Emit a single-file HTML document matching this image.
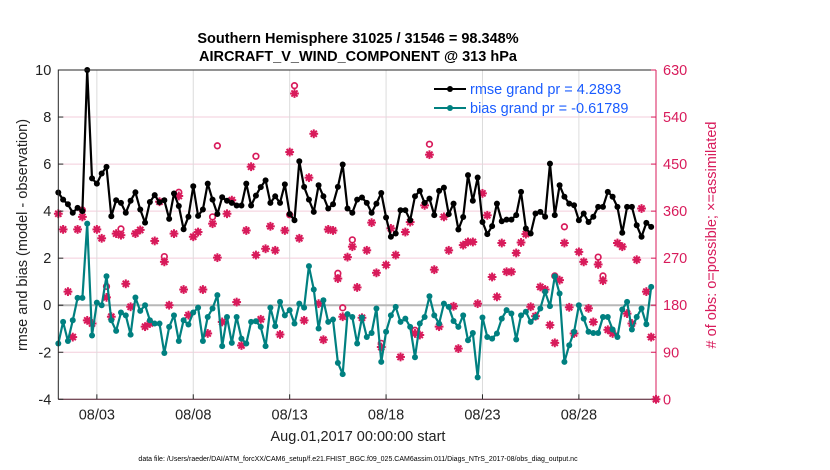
<!DOCTYPE html>
<html><head><meta charset="utf-8"><style>
body{margin:0;background:#fff;}
svg{display:block;font-family:"Liberation Sans",Arial,sans-serif;}
</style></head><body>
<svg id="chart" width="830" height="470" viewBox="0 0 830 470">
<g id="grid"></g>
<g id="series"></g>
<g id="axes"></g>
<text x="358" y="43" text-anchor="middle" font-size="14.5" font-weight="bold" fill="#000">Southern Hemisphere 31025 / 31546 = 98.348%</text>
<text x="358" y="61" text-anchor="middle" font-size="14.5" font-weight="bold" fill="#000">AIRCRAFT_V_WIND_COMPONENT @ 313 hPa</text>
<text transform="translate(27,235) rotate(-90)" text-anchor="middle" font-size="14.5" fill="#222">rmse and bias (model - observation)</text>
<text transform="translate(716,235) rotate(-90)" text-anchor="middle" font-size="14.5" fill="#d81b5b"># of obs: o=possible; ×=assimilated</text>
<text x="358" y="441" text-anchor="middle" font-size="14.5" fill="#222">Aug.01,2017 00:00:00 start</text>
<text x="358" y="461" text-anchor="middle" font-size="7" fill="#000">data file: /Users/raeder/DAI/ATM_forcXX/CAM6_setup/f.e21.FHIST_BGC.f09_025.CAM6assim.011/Diags_NTrS_2017-08/obs_diag_output.nc</text>
<g>
<line x1="434" y1="89" x2="466" y2="89" stroke="#000" stroke-width="2"/>
<circle cx="450" cy="89" r="3" fill="#000"/>
<text x="470" y="94" font-size="14.5" fill="#1a5cff">rmse grand pr = 4.2893</text>
<line x1="434" y1="108" x2="466" y2="108" stroke="#008080" stroke-width="2"/>
<circle cx="450" cy="108" r="3" fill="#008080"/>
<text x="470" y="113" font-size="14.5" fill="#1a5cff">bias grand pr = -0.61789</text>
</g>
</svg>
<script>
const rmse=[4.79,4.49,4.29,3.93,4.14,4.0,10.0,5.39,5.17,5.6,5.88,3.78,4.46,4.35,3.93,4.44,4.8,4.07,3.51,4.39,4.68,4.38,4.46,3.67,4.75,4.22,3.23,3.76,5.06,3.8,4.07,5.17,
4.49,3.88,4.59,4.44,4.35,4.24,4.24,5.17,4.24,4.66,5.02,5.31,4.35,4.63,4.35,5.14,3.88,3.61,6.12,5.03,4.49,3.97,5.1,4.63,4.11,4.29,5.03,5.98,4.11,3.93,4.49,
4.58,4.35,3.93,4.32,4.77,3.73,2.91,3.05,4.04,4.04,3.61,4.63,4.86,4.35,4.53,3.83,4.86,5.0,3.87,4.32,3.22,3.75,5.53,4.44,5.43,3.54,3.02,3.36,4.32,3.57,3.64,
3.64,3.83,4.82,3.26,3.05,3.9,3.97,3.76,6.02,3.83,5.1,4.61,4.32,4.25,3.61,3.9,3.54,3.76,4.18,4.18,4.82,4.61,4.18,3.08,4.18,4.18,3.4,2.91,3.5,3.33];
const bias=[-1.63,-0.71,-1.52,-0.64,0.31,0.31,3.47,-1.29,0.11,0,1.23,-0.64,-1.09,-0.31,-0.43,-1.25,0.33,-0.24,0,-0.64,-0.78,-0.78,-2.03,-0.92,-0.43,-1.52,-0.64,-0.82,-0.31,-0.1,-1.52,-0.5,
-0.14,0.43,-1.74,-0.5,-1.6,-0.5,-1.42,-1.63,-0.71,-0.68,-0.92,-1.74,-0.1,-0.89,0.14,-0.43,-0.21,-0.78,0.07,-0.1,1.66,0.67,-0.99,0.21,-0.71,-0.61,-2.45,-2.93,-0.38,-0.5,-1.63,
-0.52,-1.35,-1.18,-0.14,-2.41,-1.13,-0.43,-0.07,-0.71,-0.57,-0.92,-2.21,-0.78,-0.5,0.38,-0.43,-0.78,0.07,-0.07,-0.67,-0.92,-0.43,-1.49,-1.18,-3.07,-0.52,-1.35,-1.42,-1.2,-0.57,-0.21,
-0.35,-1.46,-0.43,-0.28,-0.71,-0.5,-0.14,0.57,-0.04,1.23,0.5,-2.41,-1.7,-1.13,0,-0.57,-1.13,-1.18,-1.18,-0.5,-0.5,-1.03,-1.35,-0.18,0.14,-1.03,-0.5,-0.14,-0.81,0.78];
const nAssim=[355,325,206,119,325,349,151,145,325,308,195,158,317,314,221,177,317,324,139,145,303,378,263,180,317,389,210,161,311,320,210,126,
336,271,148,355,381,186,103,323,445,276,153,288,331,285,124,323,473,585,308,151,424,508,183,114,325,323,231,158,272,292,214,
156,285,338,242,100,257,327,276,81,320,339,126,123,371,468,248,139,349,285,178,97,295,301,301,183,394,352,234,196,299,244,
244,280,300,316,177,159,215,210,142,108,228,299,176,126,282,263,174,148,258,227,133,126,299,292,164,145,267,365,206,119,0];
const possIdx=[5,10,13,22,25,32,33,41,48,49,58,59,61,67,74,77,103,105,112,113];
const possVal=[362,216,326,273,396,349,485,465,353,600,241,175,305,107,132,488,236,330,272,236];
const yTicks=[-4,-2,0,2,4,6,8,10];
const rTicks=[0,90,180,270,360,450,540,630];
const xTickDays=[2,7,12,17,22,27];
const xTickLabels=["08/03","08/08","08/13","08/18","08/23","08/28"];

const NS="http://www.w3.org/2000/svg";
const L=58.3,R=656,T=70,B=399.3;
const X=d=>L+(d/31)*(R-L);
const Y=v=>B-(v+4)/14*(B-T);
const YR=c=>B-c/630*(B-T);
const dayOf=k=>k*0.25;
function mk(tag,attrs,parent){const e=document.createElementNS(NS,tag);for(const k in attrs)e.setAttribute(k,attrs[k]);parent.appendChild(e);return e;}
const grid=document.getElementById('grid'),ser=document.getElementById('series'),ax=document.getElementById('axes');
rTicks.forEach(c=>{const l=mk('line',{x1:L,x2:R,y1:YR(c),y2:YR(c),stroke:'#f3cddb','stroke-width':1},grid);

});
xTickDays.forEach(d=>{const l=mk('line',{x1:X(d),x2:X(d),y1:T,y2:B,stroke:'#dcdcdc','stroke-width':1},grid);

});
const z=mk('line',{x1:L,x2:R,y1:Y(0),y2:Y(0),stroke:'#b8b8b8','stroke-width':2},grid);


function ast(cx,cy,g){const s=4.4;[[0,s],[s,0],[s*.7,s*.7],[s*.7,-s*.7]].forEach(([dx,dy])=>mk('line',{x1:cx-dx,y1:cy-dy,x2:cx+dx,y2:cy+dy,stroke:'#d81b5b','stroke-width':2},g));mk('circle',{cx:cx,cy:cy,r:2.8,fill:'#d81b5b'},g);}
possIdx.forEach((k,i)=>{const c=mk('circle',{cx:X(dayOf(k)),cy:YR(possVal[i]),r:2.8,fill:'none',stroke:'#d81b5b','stroke-width':1.7},ser);

});
nAssim.forEach((c,k)=>{const g=mk('g',{},ser);


ast(X(dayOf(k)),YR(c),g);});
function line(vals,color,name){const p=mk('polyline',{points:vals.map((v,k)=>X(dayOf(k)).toFixed(1)+','+Y(v).toFixed(1)).join(' '),fill:'none',stroke:color,'stroke-width':2.2,'stroke-linejoin':'round'},ser);


vals.forEach((v,k)=>{const c=mk('circle',{cx:X(dayOf(k)),cy:Y(v),r:3,fill:color},ser);

});}
line(rmse,'#000','rmse');
line(bias,'#008080','bias');
mk('path',{d:`M${L},${B}V${T}H${R}`,fill:'none',stroke:'#262626','stroke-width':1},ax);
mk('line',{x1:L,x2:R,y1:B,y2:B,stroke:'#4a1a2a','stroke-width':1},ax);
mk('line',{x1:R,x2:R,y1:T,y2:B,stroke:'#d81b5b','stroke-width':1},ax);
yTicks.forEach(v=>{mk('line',{x1:L,x2:L+5,y1:Y(v),y2:Y(v),stroke:'#262626'},ax);
const t=mk('text',{x:L-7,y:Y(v)+5,'text-anchor':'end','font-size':14.5,fill:'#222'},ax);t.textContent=v;

});
rTicks.forEach(c=>{mk('line',{x1:R-5,x2:R,y1:YR(c),y2:YR(c),stroke:'#d81b5b'},ax);
const t=mk('text',{x:R+7,y:YR(c)+5,'font-size':14.5,fill:'#d81b5b'},ax);t.textContent=c;

});
xTickDays.forEach((d,i)=>{mk('line',{x1:X(d),x2:X(d),y1:B,y2:B-5,stroke:'#262626'},ax);
const t=mk('text',{x:X(d),y:B+20,'text-anchor':'middle','font-size':14.5,fill:'#222'},ax);t.textContent=xTickLabels[i];

});
</script>
</body></html>
